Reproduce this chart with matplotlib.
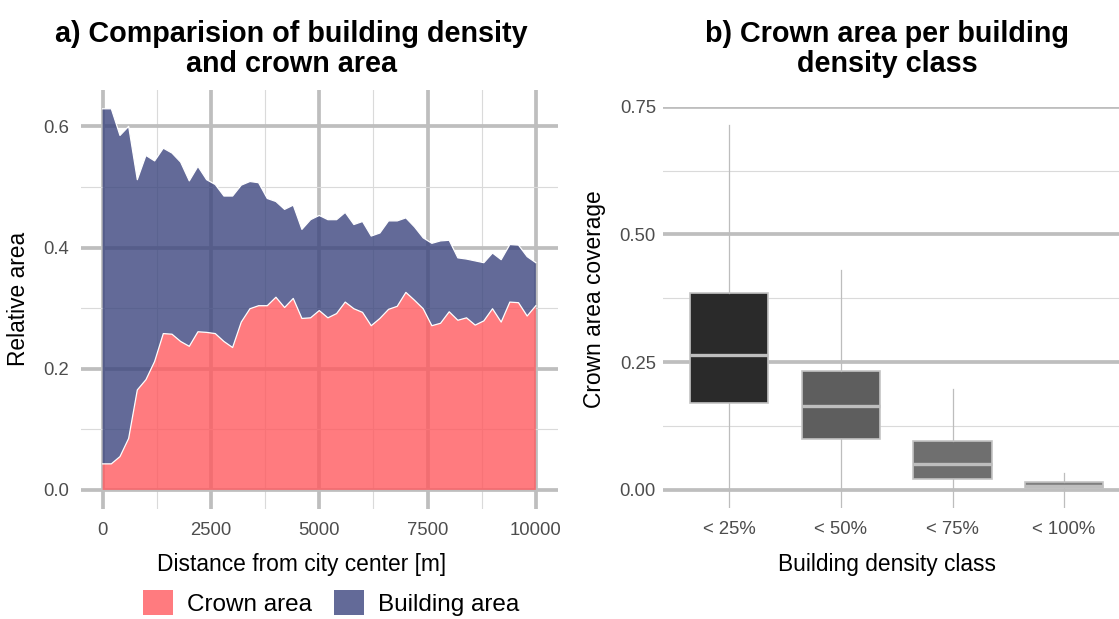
import matplotlib
matplotlib.use("Agg")
import matplotlib.pyplot as plt
from matplotlib.patches import Patch

plt.rcParams['font.family'] = ['Liberation Sans', 'DejaVu Sans']

# panel a: relative area along the distance from the city center (200 m steps)
distance = list(range(0, 10001, 200))
crown = [0.043, 0.043, 0.055, 0.085, 0.165, 0.182, 0.212, 0.258, 0.257, 0.245,
         0.237, 0.261, 0.260, 0.258, 0.245, 0.235, 0.277, 0.299, 0.304, 0.304,
         0.318, 0.301, 0.316, 0.283, 0.284, 0.296, 0.284, 0.291, 0.310, 0.299,
         0.293, 0.271, 0.283, 0.298, 0.303, 0.326, 0.313, 0.299, 0.271, 0.275,
         0.294, 0.280, 0.284, 0.272, 0.279, 0.299, 0.277, 0.310, 0.309, 0.287,
         0.304]
building = [0.586, 0.586, 0.530, 0.515, 0.347, 0.370, 0.331, 0.306, 0.299, 0.296,
            0.273, 0.273, 0.252, 0.246, 0.240, 0.250, 0.226, 0.210, 0.203, 0.177,
            0.158, 0.162, 0.154, 0.147, 0.162, 0.157, 0.162, 0.155, 0.148, 0.139,
            0.150, 0.148, 0.141, 0.146, 0.141, 0.123, 0.121, 0.117, 0.136, 0.136,
            0.118, 0.103, 0.097, 0.106, 0.096, 0.092, 0.103, 0.095, 0.095, 0.098,
            0.071]
area_labels = ['Crown area', 'Building area']

# panel b: crown area coverage per building density class
classes = ['< 25%', '< 50%', '< 75%', '< 100%']
q1 = [0.170, 0.100, 0.021, 0.003]
median = [0.265, 0.164, 0.051, 0.008]
q3 = [0.385, 0.233, 0.095, 0.016]
whisker_hi = [0.714, 0.430, 0.197, 0.033]
whisker_lo = [-0.04, -0.04, -0.04, -0.04]  # run past the panel bottom

W, H = 1119, 619
red = '#FF5A5F'
blue = '#3C457E'
box_fill = ['#2A2A2A', '#5E5E5E', '#6F6F6F', '#808080']
grid_major = '#BEBEBE'
grid_minor = '#DADADA'
tick_col = '#4D4D4D'

fig = plt.figure(figsize=(W / 100, H / 100), dpi=100)


def style(ax):
    for s in ax.spines.values():
        s.set_visible(False)
    ax.set_axisbelow(True)
    ax.grid(which='major', color=grid_major, linewidth=2.7)
    ax.grid(which='minor', color=grid_minor, linewidth=0.8)
    ax.tick_params(which='both', length=0, labelsize=13.3, colors=tick_col)


# ---- panel a
ax1 = fig.add_axes([81 / W, 1 - 509 / H, (557.5 - 81) / W, (509 - 89.7) / H])
style(ax1)
ax1.stackplot(distance, crown, building, colors=[red, blue], alpha=0.8,
              linewidth=0, zorder=2)
top = [c + b for c, b in zip(crown, building)]
ax1.plot(distance, crown, color='white', linewidth=0.9, zorder=3)
ax1.plot(distance, top, color='white', linewidth=0.9, zorder=3)
ax1.set_xlim(-500, 10500)
ax1.set_ylim(-0.0315, 0.6605)
ax1.set_xticks([0, 2500, 5000, 7500, 10000])
ax1.set_xticks([1250, 3750, 6250, 8750], minor=True)
ax1.set_yticks([0.0, 0.2, 0.4, 0.6])
ax1.set_yticks([0.1, 0.3, 0.5], minor=True)
ax1.set_yticklabels(['0.0', '0.2', '0.4', '0.6'])
ax1.tick_params(axis='x', pad=9.5)
ax1.tick_params(axis='y', pad=8.5)

# ---- panel b
ax2 = fig.add_axes([662.5 / W, 1 - 508.2 / H, (1131 - 662.5) / W, (508.2 - 106.7) / H])
style(ax2)
ax2.xaxis.grid(False, which='both')
stats = [dict(med=m, q1=a, q3=b, whislo=lo, whishi=hi, fliers=[])
         for m, a, b, lo, hi in zip(median, q1, q3, whisker_lo, whisker_hi)]
bp = ax2.bxp(stats, positions=[1, 2, 3, 4], widths=0.7, patch_artist=True,
             showcaps=False, showfliers=False,
             boxprops=dict(edgecolor='#C4C4C4', linewidth=1.2),
             whiskerprops=dict(color='#BDBDBD', linewidth=0.9),
             medianprops=dict(color='#BEBEBE', linewidth=2.4))
for patch, c in zip(bp['boxes'], box_fill):
    patch.set_facecolor(c)
ax2.set_xlim(0.4, 4.6)
ax2.set_ylim(-0.0357, 0.75)
ax2.set_xticks([1, 2, 3, 4])
ax2.set_xticklabels(classes)
ax2.set_yticks([0.0, 0.25, 0.5, 0.75])
ax2.set_yticks([0.125, 0.375, 0.625], minor=True)
ax2.set_yticklabels(['0.00', '0.25', '0.50', '0.75'])
ax2.tick_params(axis='x', pad=9.5)
ax2.tick_params(axis='y', pad=4.7)

# ---- titles and axis titles
tkw = dict(ha='center', va='baseline', fontsize=20.7, fontweight='bold')
fig.text(291.5 / W, 1 - 41.5 / H, 'a) Comparision of building density', **tkw)
fig.text(291.5 / W, 1 - 72 / H, 'and crown area', **tkw)
fig.text(887 / W, 1 - 41.5 / H, 'b) Crown area per building', **tkw)
fig.text(887 / W, 1 - 72 / H, 'density class', **tkw)

fig.text(19 / W, 1 - 299 / H, 'Relative area', rotation=90, ha='center',
         va='center', fontsize=16.4)
fig.text(302 / W, 1 - 571 / H, 'Distance from city center [m]', ha='center',
         va='baseline', fontsize=16.4)
fig.text(595 / W, 1 - 299 / H, 'Crown area coverage', rotation=90, ha='center',
         va='center', fontsize=16.4)
fig.text(887 / W, 1 - 571 / H, 'Building density class', ha='center',
         va='baseline', fontsize=16.4)

handles = [Patch(facecolor=red, alpha=0.8, linewidth=0),
           Patch(facecolor=blue, alpha=0.8, linewidth=0)]
fig.legend(handles, area_labels, loc='upper left',
           bbox_to_anchor=(143 / W, 1 - 590 / H), ncol=2, frameon=False,
           fontsize=17.5, handlelength=1.23, handleheight=1.23,
           handletextpad=0.58, columnspacing=0.9, borderpad=0, borderaxespad=0)

fig.savefig('out.png', dpi=100)
